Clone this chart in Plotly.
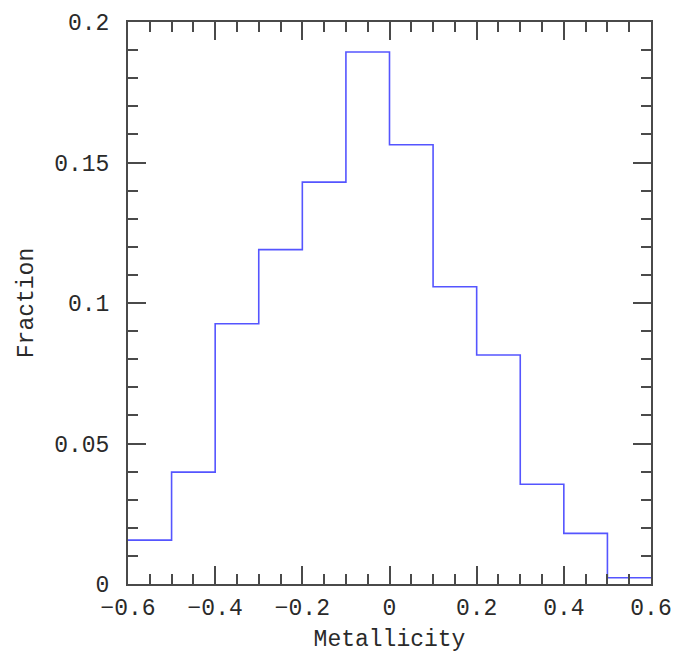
import plotly.graph_objects as go

# histogram bin edges and fraction per bin
bin_edges = [-0.6, -0.5, -0.4, -0.3, -0.2, -0.1, 0.0, 0.1, 0.2, 0.3, 0.4, 0.5, 0.6]
fractions = [0.0156, 0.0398, 0.0926, 0.1190, 0.1430, 0.1893, 0.1563,
             0.1058, 0.0815, 0.0355, 0.0180, 0.0022]

x_ticks = [-0.6, -0.4, -0.2, 0, 0.2, 0.4, 0.6]
x_labels = ["\u22120.6", "\u22120.4", "\u22120.2", "0", "0.2", "0.4", "0.6"]
y_ticks = [0, 0.05, 0.1, 0.15, 0.2]
y_labels = ["0", "0.05", "0.1", "0.15", "0.2"]

FONT = "Liberation Mono"
AXIS_COLOR = "#4a4a4a"
TEXT_COLOR = "#2a2a2a"

fig = go.Figure()

# step outline: repeat the last value so the final bin is drawn to its right edge
fig.add_trace(go.Scatter(
    x=bin_edges,
    y=fractions + [fractions[-1]],
    mode="lines",
    line=dict(color="rgb(85,85,255)", width=1.6, shape="hv"),
    showlegend=False,
    hoverinfo="skip",
))

axis_common = dict(
    showgrid=False,
    zeroline=False,
    showline=True,
    linecolor=AXIS_COLOR,
    linewidth=2,
    mirror="ticks",
    ticks="inside",
    ticklen=18,
    tickwidth=1.5,
    tickcolor=AXIS_COLOR,
    automargin=False,
    tickfont=dict(family=FONT, size=23, color=TEXT_COLOR),
)

fig.update_xaxes(
    range=[-0.6, 0.6],
    tickvals=x_ticks,
    ticktext=x_labels,
    ticklabelstandoff=1,
    minor=dict(dtick=0.05, tick0=0, ticks="inside", ticklen=10,
               tickwidth=1.5, tickcolor=AXIS_COLOR, showgrid=False),
    title=dict(text="Metallicity", font=dict(family=FONT, size=23, color=TEXT_COLOR),
               standoff=9),
    **axis_common,
)
fig.update_yaxes(
    range=[0, 0.2],
    tickvals=y_ticks,
    ticktext=y_labels,
    ticklabelstandoff=12,
    minor=dict(dtick=0.01, tick0=0, ticks="inside", ticklen=10,
               tickwidth=1.5, tickcolor=AXIS_COLOR, showgrid=False),
    title=dict(text="Fraction", font=dict(family=FONT, size=23, color=TEXT_COLOR),
               standoff=14),
    **axis_common,
)

fig.update_layout(
    width=676,
    height=662,
    margin=dict(l=128, r=25, t=22, b=78),
    plot_bgcolor="white",
    paper_bgcolor="white",
)

# drop the default body margin so the figure fills the window exactly
fig.write_html(
    "out.html",
    config={"displayModeBar": False},
    post_script="document.body.style.margin = '0';",
)
